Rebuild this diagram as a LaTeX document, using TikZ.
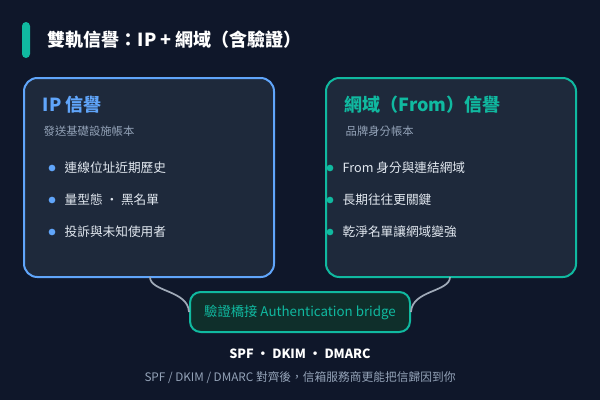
\documentclass[tikz,border=0pt]{standalone}
\usepackage{fontspec}
\setmainfont{Noto Sans CJK TC}
\usepackage{tikz}
\usetikzlibrary{positioning}
\definecolor{bgnavy}{HTML}{0F172A}
\definecolor{panel}{HTML}{1E293B}
\definecolor{ipblue}{HTML}{60A5FA}
\definecolor{domgreen}{HTML}{10B9A0}
\definecolor{bridgefill}{HTML}{0F2F2B}
\definecolor{subgray}{HTML}{94A3B8}
\definecolor{itemtxt}{HTML}{E2E8F0}
\definecolor{linkgray}{HTML}{A0AAB8}
\begin{document}
\begin{tikzpicture}[x=0.75pt,y=-0.75pt,
  card/.style={draw,line width=1.5pt,fill=panel,rounded corners=10pt,inner sep=0pt},
  heading/.style={anchor=west,font=\fontsize{13.5}{15}\selectfont\bfseries},
  sub/.style={anchor=west,text=subgray,font=\fontsize{8.5}{10}\selectfont},
  item/.style={anchor=west,text=itemtxt,font=\fontsize{9.5}{11}\selectfont},
  dot/.style={circle,inner sep=0pt,minimum size=5pt},
  link/.style={draw=linkgray,line width=1.3pt}]
\fill[bgnavy] (0,0) rectangle (600,400);
% title
\fill[domgreen,rounded corners=3pt] (22,22) rectangle (30,58);
\node[heading,text=white] (title) at (43,40) {雙軌信譽：IP + 網域（含驗證）};
% cards
\draw[card,draw=ipblue] (24,78) rectangle (274,277);
\coordinate (ipbot) at (150,277);
\draw[card,draw=domgreen] (326,78) rectangle (576,277);
\coordinate (dombot) at (450,277);
\node[heading,text=ipblue] (iphead) at (38,105) {IP 信譽};
\node[sub] (ipsub) at (39,131) {發送基礎設施帳本};
\node[heading,text=domgreen] (domhead) at (340,105) {網域（From）信譽};
\node[sub] (domsub) at (341,131) {品牌身分帳本};
\foreach \t [count=\i] in {連線位址近期歷史,量型態 ・ 黑名單,投訴與未知使用者}{
  \node[dot,fill=ipblue] (ipdot\i) at (52,136+32*\i) {};
  \node[item] (ipitem\i) at (60,136+32*\i) {\t};
}
\foreach \t [count=\i] in {From 身分與連結網域,長期往往更關鍵,乾淨名單讓網域變強}{
  \node[dot,fill=domgreen] (domdot\i) at (330,136+32*\i) {};
  \node[item] (domitem\i) at (338,136+32*\i) {\t};
}
% bridge
\node[draw=domgreen,line width=1.5pt,fill=bridgefill,rounded corners=8pt,
  minimum width=165pt,minimum height=30pt,text=domgreen,
  font=\fontsize{10}{12}\selectfont] (bridge) at (300,312) {驗證橋接 Authentication bridge};
\draw[link] (ipbot) .. controls (150,292) and (188,290) .. (bridge.west);
\draw[link] (dombot) .. controls (450,292) and (412,290) .. (bridge.east);
\node[text=white,font=\fontsize{9.5}{11}\selectfont\bfseries] (proto) at (300,354) {SPF ・ DKIM ・ DMARC};
\node[text=subgray,font=\fontsize{8.8}{10}\selectfont] (note) at (300,378) {SPF / DKIM / DMARC 對齊後，信箱服務商更能把信歸因到你};
\end{tikzpicture}
\end{document}
